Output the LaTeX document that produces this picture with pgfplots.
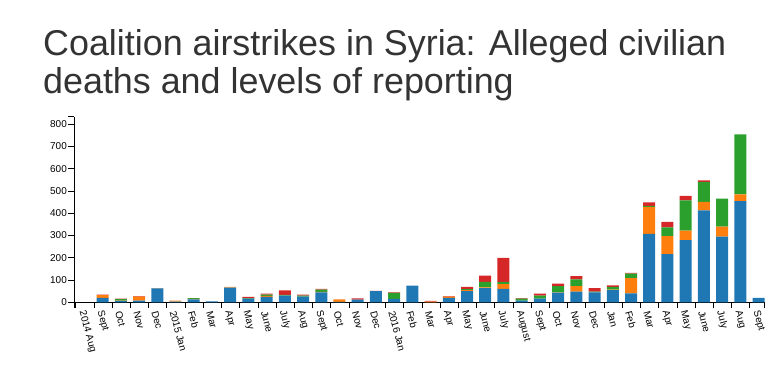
\documentclass[border=0pt]{standalone}
\usepackage{pgfplots}
\usepackage{pgfplotstable}
\pgfplotsset{compat=1.18}
\usepackage{fontspec}
\setmainfont{Liberation Sans}
\definecolor{cblue}{HTML}{1F77B4}
\definecolor{corange}{HTML}{FF7F0E}
\definecolor{cgreen}{HTML}{2CA02C}
\definecolor{cred}{HTML}{D62728}
\definecolor{ctitle}{HTML}{333333}
\pgfplotstableread{
b o g r
0 0 0 0
20 12 0 2
6 2 6 2
8 17 0 3
63 1 0 0
3 5 0 0
13 2 4 0
4 0 0 0
66 3 0 0
16 0 3 5
24 5 6 4
30 0 3 21
25 0 5 4
45 2 10 3
2 11 0 0
12 0 0 6
50 0 0 1
15 0 27 3
75 0 0 0
0 3 0 3
20 5 0 3
50 5 4 10
64 3 25 28
60 22 10 108
8 0 8 3
16 0 14 9
43 2 28 11
48 25 30 15
45 0 3 16
55 2 12 7
40 69 20 3
308 121 4 16
216 81 40 24
279 43 136 20
413 38 90 7
295 45 126 0
455 30 270 0
20 0 0 0
}\datatable
\begin{document}
\begin{tikzpicture}
\path[use as bounding box] (0,0) rectangle (782bp,389bp);
\node[anchor=base west, inner sep=0pt, text=ctitle, font=\fontsize{36}{38}\selectfont] at (43bp,333.3bp) {Coalition airstrikes in Syria: Alleged civilian};
\node[anchor=base west, inner sep=0pt, text=ctitle, font=\fontsize{36}{38}\selectfont] at (43bp,295bp) {deaths and levels of reporting};
\begin{axis}[
  at={(74bp,86.7bp)}, anchor=south west,
  scale only axis, width=690bp, height=185.6bp,
  xmin=-0.1, xmax=37.77, ymin=0, ymax=834,
  axis x line=bottom, axis y line=left,
  axis line style={-, line width=1bp, black},
  tick align=outside, major tick length=6bp,
  tick style={black, line width=1bp},
  xtick={0,...,37},
  xticklabels={2014 Aug, Sept, Oct, Nov, Dec, 2015 Jan, Feb, Mar, Apr, May, June, July, Aug, Sept, Oct, Nov, Dec, 2016 Jan, Feb, Mar, Apr, May, June, July, August, Sept, Oct, Nov, Dec, Jan, Feb, Mar, Apr, May, June, July, Aug, Sept},
  xticklabel style={font=\fontsize{10}{12}\selectfont, inner sep=0pt, xshift=6bp, yshift=-2.7bp, rotate=-75, anchor=west},
  ytick={0,100,...,800},
  yticklabel style={font=\fontsize{10}{12}\selectfont, inner sep=0pt, anchor=east, xshift=-1bp},
  /pgf/number format/assume math mode=true,
  extra x ticks={-0.1,37.77}, extra x tick labels={},
  extra y ticks={834}, extra y tick labels={},
  ybar stacked, bar width=12bp, bar shift=0pt,
  every axis plot/.append style={draw=none},
  clip=false,
]
\addplot[fill=cblue] table[x expr=\coordindex+0.47, y=b] {\datatable};
\addplot[fill=corange] table[x expr=\coordindex+0.47, y=o] {\datatable};
\addplot[fill=cgreen] table[x expr=\coordindex+0.47, y=g] {\datatable};
\addplot[fill=cred] table[x expr=\coordindex+0.47, y=r] {\datatable};
\end{axis}
\end{tikzpicture}
\end{document}
